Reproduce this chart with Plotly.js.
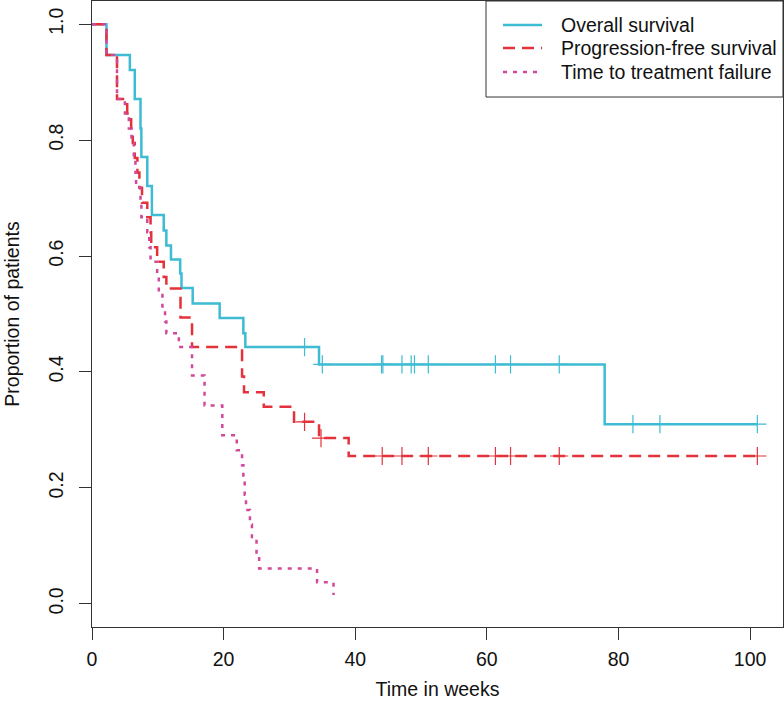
<!DOCTYPE html>
<html><head><meta charset="utf-8">
<script src="https://cdn.plot.ly/plotly-3.0.1.min.js"></script>
<style>html,body{margin:0;padding:0;background:#fff;}#chart{width:784px;height:711px;}</style>
</head><body><div id="chart"></div>
<script>
// Overall survival (step times in weeks and survival proportion after each step)
const osTime = [0, 2.2, 5.75, 6.5, 7.37, 7.5, 8.4, 9.1, 10.9, 11.3, 12.0, 13.4, 13.6, 15.3, 19.4, 23.0, 23.3, 34.5, 77.9];
const osSurv = [1.0, 0.947, 0.921, 0.871, 0.820, 0.771, 0.721, 0.671, 0.644, 0.618, 0.594, 0.570, 0.545, 0.518, 0.493, 0.467, 0.443, 0.413, 0.310];
const osEnd = 101.1;
const osCensor = [32.3, 35.0, 44.0, 44.2, 47.1, 48.5, 49.0, 51.1, 61.3, 63.6, 71.0, 82.2, 86.3, 101.1];

// Progression-free survival
const pfsTime = [0, 2.2, 3.8, 5.35, 5.95, 6.2, 6.5, 6.9, 7.2, 7.6, 8.4, 8.9, 9.0, 9.9, 10.9, 11.3, 13.45, 15.2, 22.8, 23.1, 26.1, 30.7, 34.5, 39.0];
const pfsSurv = [1.0, 0.947, 0.871, 0.846, 0.820, 0.795, 0.769, 0.744, 0.718, 0.692, 0.667, 0.641, 0.615, 0.590, 0.564, 0.544, 0.494, 0.443, 0.392, 0.365, 0.340, 0.314, 0.286, 0.255];
const pfsEnd = 101.1;
const pfsCensor = [32.3, 34.8, 44.1, 47.1, 51.1, 61.3, 63.6, 71.0, 101.1];

// Time to treatment failure
const ttfTime = [0, 2.2, 3.8, 5.0, 5.6, 6.0, 6.35, 6.6, 6.7, 7.37, 7.5, 8.4, 8.7, 8.9, 9.9, 10.15, 10.7, 11.1, 11.3, 13.2, 15.2, 17.1, 19.8, 22.0, 22.8, 23.0, 23.2, 23.4, 24.0, 24.3, 25.0, 25.4, 34.2, 36.7];
const ttfSurv = [1.0, 0.947, 0.871, 0.846, 0.820, 0.795, 0.769, 0.744, 0.718, 0.692, 0.667, 0.641, 0.615, 0.590, 0.564, 0.538, 0.513, 0.487, 0.467, 0.443, 0.394, 0.342, 0.291, 0.265, 0.239, 0.214, 0.188, 0.162, 0.137, 0.111, 0.085, 0.061, 0.037, 0.015];
const ttfEnd = 36.7;

const seriesNames = ['Overall survival', 'Progression-free survival', 'Time to treatment failure'];
const xTickVals = [0, 20, 40, 60, 80, 100];
const yTickVals = [0, 0.2, 0.4, 0.6, 0.8, 1.0];
const yTickText = ['0.0', '0.2', '0.4', '0.6', '0.8', '1.0'];

const colBlue = '#3dbcd3';
const colRed = '#e3323b';
const colMag = '#d2489b';
const FONT = 'Liberation Sans, Arial, sans-serif';
const FS = 19.5;

function stepAt(times, surv, t) {
  let v = surv[0];
  for (let i = 0; i < times.length; i++) if (times[i] <= t) v = surv[i];
  return v;
}
function curveX(times, end) { return end > times[times.length - 1] ? times.concat([end]) : times.slice(); }
function curveY(times, surv, end) { return end > times[times.length - 1] ? surv.concat([surv[surv.length - 1]]) : surv.slice(); }

const lw = 2.5;
const dashRed = '12px,7px';
const dotMag = '4px,6px';

const traces = [
  {x: curveX(osTime, osEnd), y: curveY(osTime, osSurv, osEnd), mode: 'lines', line: {shape: 'hv', color: colBlue, width: lw}, name: seriesNames[0], showlegend: false},
  {x: curveX(pfsTime, pfsEnd), y: curveY(pfsTime, pfsSurv, pfsEnd), mode: 'lines', line: {shape: 'hv', color: colRed, width: lw, dash: dashRed}, name: seriesNames[1], showlegend: false},
  {x: curveX(ttfTime, ttfEnd), y: curveY(ttfTime, ttfSurv, ttfEnd), mode: 'lines', line: {shape: 'hv', color: colMag, width: lw, dash: dotMag}, name: seriesNames[2], showlegend: false},
  {x: osCensor, y: osCensor.map(t => stepAt(osTime, osSurv, t)), mode: 'markers', marker: {symbol: 'cross-thin', size: 13, color: colBlue, line: {color: colBlue, width: 1.2}}, showlegend: false, hoverinfo: 'skip'},
  {x: pfsCensor, y: pfsCensor.map(t => stepAt(pfsTime, pfsSurv, t)), mode: 'markers', marker: {symbol: 'cross-thin', size: 13, color: colRed, line: {color: colRed, width: 1.2}}, showlegend: false, hoverinfo: 'skip'}
];

// manual R-style legend box
const L = {x0: 0.5702, x1: 1.0, y0: 0.8466, y1: 1.0, lx0: 0.5948, lx1: 0.6513, tx: 0.6758, rows: [0.9617, 0.9249, 0.8866]};
const legendColors = [colBlue, colRed, colMag];
const legendDash = ['solid', dashRed, dotMag];
const shapes = [{type: 'rect', xref: 'paper', yref: 'paper', x0: L.x0, x1: L.x1, y0: L.y0, y1: L.y1, line: {color: '#333', width: 1}, fillcolor: 'rgba(255,255,255,1)'}];
const annotations = [];
for (let i = 0; i < 3; i++) {
  shapes.push({type: 'line', xref: 'paper', yref: 'paper', x0: L.lx0, x1: L.lx1, y0: L.rows[i], y1: L.rows[i], line: {color: legendColors[i], width: lw, dash: legendDash[i]}});
  annotations.push({xref: 'paper', yref: 'paper', x: L.tx, y: L.rows[i], xanchor: 'left', yanchor: 'middle', text: seriesNames[i], showarrow: false, font: {family: FONT, size: FS, color: '#111'}});
}

const layout = {
  width: 784, height: 711,
  margin: {l: 92, r: 1, t: 1, b: 84},
  paper_bgcolor: '#fff', plot_bgcolor: '#fff',
  font: {family: FONT, size: FS, color: '#111'},
  xaxis: {range: [0, 105], tickvals: xTickVals, ticktext: xTickVals.map(String), ticks: 'outside', ticklen: 12, tickwidth: 1, tickcolor: '#333',
    showline: true, mirror: true, linecolor: '#333', linewidth: 1, showgrid: false, zeroline: false, ticklabelstandoff: 3,
    title: {text: 'Time in weeks', font: {family: FONT, size: FS, color: '#111'}, standoff: 12}, automargin: false},
  yaxis: {range: [-0.04, 1.04], tickvals: yTickVals, ticktext: yTickText, ticks: 'outside', ticklen: 12, tickwidth: 1, tickcolor: '#333', tickangle: -90,
    showline: true, mirror: true, linecolor: '#333', linewidth: 1, showgrid: false, zeroline: false, ticklabelstandoff: 8,
    title: {text: 'Proportion of patients', font: {family: FONT, size: FS, color: '#111'}, standoff: 20}, automargin: false},
  shapes: shapes,
  annotations: annotations,
  showlegend: false
};

Plotly.newPlot('chart', traces, layout, {displayModeBar: false, staticPlot: true});
</script>
</body></html>
